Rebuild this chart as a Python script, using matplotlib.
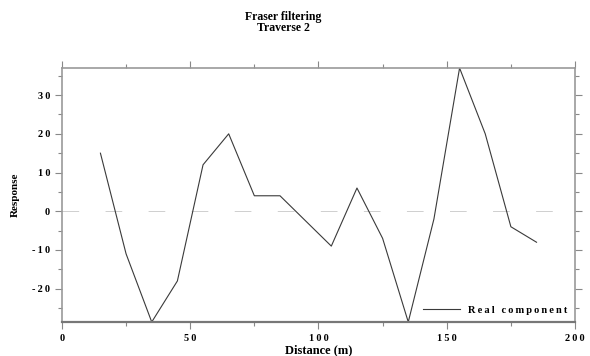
import numpy as np
import matplotlib
matplotlib.use('Agg')
import matplotlib.pyplot as plt
from matplotlib.ticker import MultipleLocator, FuncFormatter

# Fraser filtered response along traverse 2
distance = [15, 25, 35, 45, 55, 65, 75, 85, 95, 105, 115, 125, 135, 145, 155, 165, 175, 185]
real_component = [15, -11, -28.6, -18, 12, 20, 4, 4, -2.5, -9, 6, -7, -28.6, -2, 37, 20, -4, -8]

title_lines = ['Fraser filtering', 'Traverse 2']
x_label = 'Distance (m)'
y_label = 'Response'
legend_label = 'Real component'

plt.rcParams['font.family'] = ['Liberation Serif', 'DejaVu Serif']
plt.rcParams['font.weight'] = 'bold'
plt.rcParams['lines.scale_dashes'] = False


def spaced(s, sep='\u2009'):
    # old plotting package used wide letter spacing
    return sep.join(s)


fig = plt.figure(figsize=(5.9, 3.56), dpi=100)
ax = fig.add_axes([0.105, 0.0955, 0.8696, 0.7135])

# zero reference line, light dotted
ax.plot([0, 200], [0, 0], color='#cfcfcf', lw=0.7, linestyle=(0, (12, 19)), zorder=1)
ax.plot(distance, real_component, color='#3a3a3a', lw=0.8, label=spaced(legend_label), zorder=2)

ax.set_xlim(0, 200)
ax.set_ylim(min(real_component), max(real_component))

ax.xaxis.set_major_locator(MultipleLocator(50))
ax.xaxis.set_minor_locator(MultipleLocator(25))
ax.yaxis.set_major_locator(MultipleLocator(10))
ax.yaxis.set_minor_locator(MultipleLocator(5))
fmt = FuncFormatter(lambda v, p: spaced('%d' % round(v)))
ax.xaxis.set_major_formatter(fmt)
ax.yaxis.set_major_formatter(fmt)
ax.tick_params(which='both', direction='out', colors='#888888', labelcolor='black',
               top=True, right=True, labelsize=7.5, width=0.8)
ax.tick_params(which='major', length=5)
ax.tick_params(which='minor', length=3)

for side in ['left', 'right', 'top', 'bottom']:
    ax.spines[side].set_color('#999999')
    ax.spines[side].set_linewidth(1.2)
ax.spines['bottom'].set_color('#777777')
ax.spines['bottom'].set_linewidth(1.6)

ax.set_xlabel(x_label, fontsize=9, fontweight='bold', labelpad=1)
ax.set_ylabel(y_label, fontsize=8, fontweight='bold', labelpad=9)

fig.text(283 / 590, 1 - 17 / 356, title_lines[0], ha='center', va='center', fontsize=8.5, fontweight='bold')
fig.text(283 / 590, 1 - 28 / 356, title_lines[1], ha='center', va='center', fontsize=8.5, fontweight='bold')

leg = ax.legend(loc='lower right', frameon=False, fontsize=7.5, handlelength=3.6,
                handletextpad=0.8, borderaxespad=0.3)

fig.savefig('out.png', dpi=100)
